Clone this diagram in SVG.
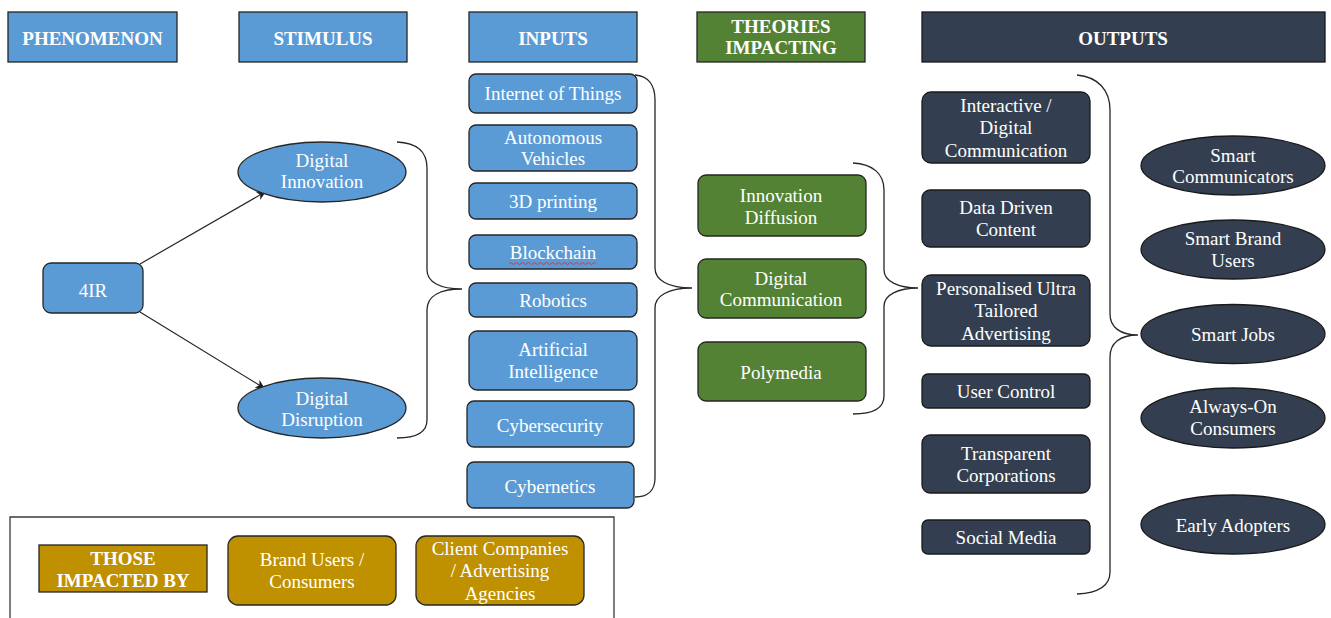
<svg xmlns="http://www.w3.org/2000/svg" width="1331" height="618" viewBox="0 0 1331 618">
  <style>
    text { font-family: 'Liberation Serif', 'DejaVu Serif', serif; font-size: 19px; fill: #ffffff; text-anchor: middle; transform: translate(0px, 1px); }
    .hd { font-weight: bold; }
    .blue { fill: #5B9BD5; stroke: #262626; stroke-width: 1.3; }
    .green { fill: #548235; stroke: #262626; stroke-width: 1.3; }
    .dark { fill: #333F50; stroke: #1a1a1a; stroke-width: 1.3; }
    .gold { fill: #BF9000; stroke: #262626; stroke-width: 1.3; }
    .brace { fill: none; stroke: #262626; stroke-width: 1.3; }
    .arrow { fill: none; stroke: #262626; stroke-width: 1.2; marker-end: url(#ah); }
  </style>
  <defs>
    <marker id="ah" viewBox="0 0 10 10" refX="9" refY="5" markerWidth="9" markerHeight="9" markerUnits="userSpaceOnUse" orient="auto">
      <path d="M0,0 L10,5 L0,10 L3,5 Z" fill="#1a1a1a"/>
    </marker>
  </defs>
  <rect width="1331" height="618" fill="#ffffff"/>

  <!-- column headers -->
  <g id="h-phenomenon"><rect class="blue" x="8" y="12" width="169" height="50"/><text class="hd" x="92.5" y="44">PHENOMENON</text></g>
  <g id="h-stimulus"><rect class="blue" x="239" y="12" width="168" height="50"/><text class="hd" x="323" y="44">STIMULUS</text></g>
  <g id="h-inputs"><rect class="blue" x="469" y="12" width="168" height="50"/><text class="hd" x="553" y="44">INPUTS</text></g>
  <g id="h-theories"><rect class="green" x="697" y="12" width="168" height="50"/><text class="hd" x="781" y="32">THEORIES</text><text class="hd" x="781" y="53">IMPACTING</text></g>
  <g id="h-outputs"><rect class="dark" x="922" y="12" width="403" height="50"/><text class="hd" x="1123" y="44">OUTPUTS</text></g>

  <!-- connectors: arrows and grouping braces -->
  <g id="connectors">
    <path class="arrow" d="M140,264 L265,192"/>
    <path class="arrow" d="M140,312 L264,388"/>
    <path class="brace" d="M397,142 C416,143 427,150 427,168 L427,270 C427,282 440,289 462,289 C440,289 427,296 427,310 L427,420 C427,432 416,438 397,438"/>
    <path class="brace" d="M635,75 C648,76 655,85 655,100 L655,268 C655,280 668,288 692,288 C668,288 655,296 655,308 L655,478 C655,490 648,497 635,497"/>
    <path class="brace" d="M853,163 C873,164 884,174 884,190 L884,270 C884,281 898,288 918,288 C898,288 884,295 884,306 L884,396 C884,408 873,414 853,414"/>
    <path class="brace" d="M1077,75 C1098,77 1110,90 1110,110 L1110,314 C1110,327 1120,335 1138,335 C1120,335 1110,343 1110,357 L1110,572 C1110,586 1098,593 1077,594"/>
  </g>

  <!-- phenomenon and stimulus -->
  <g id="n-4ir"><rect class="blue" x="43" y="263" width="100" height="50" rx="8"/><text x="93" y="296">4IR</text></g>
  <g id="n-innovation"><ellipse class="blue" cx="322" cy="172" rx="84" ry="30"/><text x="322" y="166">Digital</text><text x="322" y="187">Innovation</text></g>
  <g id="n-disruption"><ellipse class="blue" cx="322" cy="408" rx="84" ry="30"/><text x="322" y="404">Digital</text><text x="322" y="425">Disruption</text></g>

  <!-- inputs -->
  <g id="n-iot"><rect class="blue" x="469" y="74" width="168" height="39" rx="7"/><text x="553" y="99">Internet of Things</text></g>
  <g id="n-av"><rect class="blue" x="469" y="125" width="168" height="46" rx="7"/><text x="553" y="143">Autonomous</text><text x="553" y="164">Vehicles</text></g>
  <g id="n-3d"><rect class="blue" x="469" y="183" width="168" height="36" rx="7"/><text x="553" y="207">3D printing</text></g>
  <g id="n-blockchain"><rect class="blue" x="469" y="235" width="168" height="34" rx="7"/><text x="553" y="258">Blockchain</text>
    <path d="M509,263.5 q1.5,-2 3,0 t3,0 t3,0 t3,0 t3,0 t3,0 t3,0 t3,0 t3,0 t3,0 t3,0 t3,0 t3,0 t3,0 t3,0 t3,0 t3,0 t3,0 t3,0 t3,0 t3,0 t3,0 t3,0 t3,0 t3,0 t3,0 t3,0 t3,0 t3,0" fill="none" stroke="#e03030" stroke-width="0.9"/></g>
  <g id="n-robotics"><rect class="blue" x="469" y="283" width="168" height="34" rx="7"/><text x="553" y="306">Robotics</text></g>
  <g id="n-ai"><rect class="blue" x="469" y="331" width="168" height="59" rx="8"/><text x="553" y="355">Artificial</text><text x="553" y="377">Intelligence</text></g>
  <g id="n-cybersecurity"><rect class="blue" x="467" y="401" width="167" height="46" rx="7"/><text x="550" y="431">Cybersecurity</text></g>
  <g id="n-cybernetics"><rect class="blue" x="467" y="462" width="167" height="46" rx="7"/><text x="550" y="492">Cybernetics</text></g>

  <!-- theories -->
  <g id="n-diffusion"><rect class="green" x="698" y="175" width="168" height="61" rx="8"/><text x="781" y="201">Innovation</text><text x="781" y="223">Diffusion</text></g>
  <g id="n-digcomm"><rect class="green" x="698" y="259" width="168" height="59" rx="8"/><text x="781" y="284">Digital</text><text x="781" y="305">Communication</text></g>
  <g id="n-polymedia"><rect class="green" x="698" y="342" width="168" height="59" rx="8"/><text x="781" y="378">Polymedia</text></g>

  <!-- outputs -->
  <g id="n-interactive"><rect class="dark" x="922" y="92" width="168" height="71" rx="9"/><text x="1006" y="111">Interactive /</text><text x="1006" y="133">Digital</text><text x="1006" y="156">Communication</text></g>
  <g id="n-datadriven"><rect class="dark" x="922" y="190" width="168" height="57" rx="8"/><text x="1006" y="213">Data Driven</text><text x="1006" y="235">Content</text></g>
  <g id="n-personalised"><rect class="dark" x="922" y="275" width="168" height="71" rx="9"/><text x="1006" y="294">Personalised Ultra</text><text x="1006" y="316">Tailored</text><text x="1006" y="339">Advertising</text></g>
  <g id="n-usercontrol"><rect class="dark" x="922" y="374" width="168" height="34" rx="6"/><text x="1006" y="397">User Control</text></g>
  <g id="n-transparent"><rect class="dark" x="922" y="435" width="168" height="58" rx="8"/><text x="1006" y="459">Transparent</text><text x="1006" y="481">Corporations</text></g>
  <g id="n-socialmedia"><rect class="dark" x="922" y="520" width="168" height="34" rx="6"/><text x="1006" y="543">Social Media</text></g>

  <g id="n-smartcomm"><ellipse class="dark" cx="1233" cy="165.5" rx="92" ry="29.5"/><text x="1233" y="161">Smart</text><text x="1233" y="182">Communicators</text></g>
  <g id="n-smartbrand"><ellipse class="dark" cx="1233" cy="249.5" rx="92" ry="29.5"/><text x="1233" y="244">Smart Brand</text><text x="1233" y="266">Users</text></g>
  <g id="n-smartjobs"><ellipse class="dark" cx="1233" cy="334" rx="92" ry="29.5"/><text x="1233" y="340">Smart Jobs</text></g>
  <g id="n-alwayson"><ellipse class="dark" cx="1233" cy="418" rx="92" ry="30"/><text x="1233" y="412">Always-On</text><text x="1233" y="434">Consumers</text></g>
  <g id="n-early"><ellipse class="dark" cx="1233" cy="524.5" rx="92" ry="29.5"/><text x="1233" y="531">Early Adopters</text></g>

  <!-- impacted parties panel -->
  <g id="panel-impacted">
    <path d="M10,619 L10,517 L614,517 L614,619" fill="none" stroke="#3a3a3a" stroke-width="1.3"/>
  </g>
  <g id="n-impacted"><rect class="gold" x="39" y="545" width="168" height="47"/><text class="hd" x="123" y="564">THOSE</text><text class="hd" x="123" y="586">IMPACTED BY</text></g>
  <g id="n-brandusers"><rect class="gold" x="228" y="536" width="168" height="69" rx="10"/><text x="312" y="565">Brand Users /</text><text x="312" y="587">Consumers</text></g>
  <g id="n-clients"><rect class="gold" x="416" y="536" width="168" height="69" rx="10"/><text x="500" y="554">Client Companies</text><text x="500" y="576">/ Advertising</text><text x="500" y="599">Agencies</text></g>
</svg>
